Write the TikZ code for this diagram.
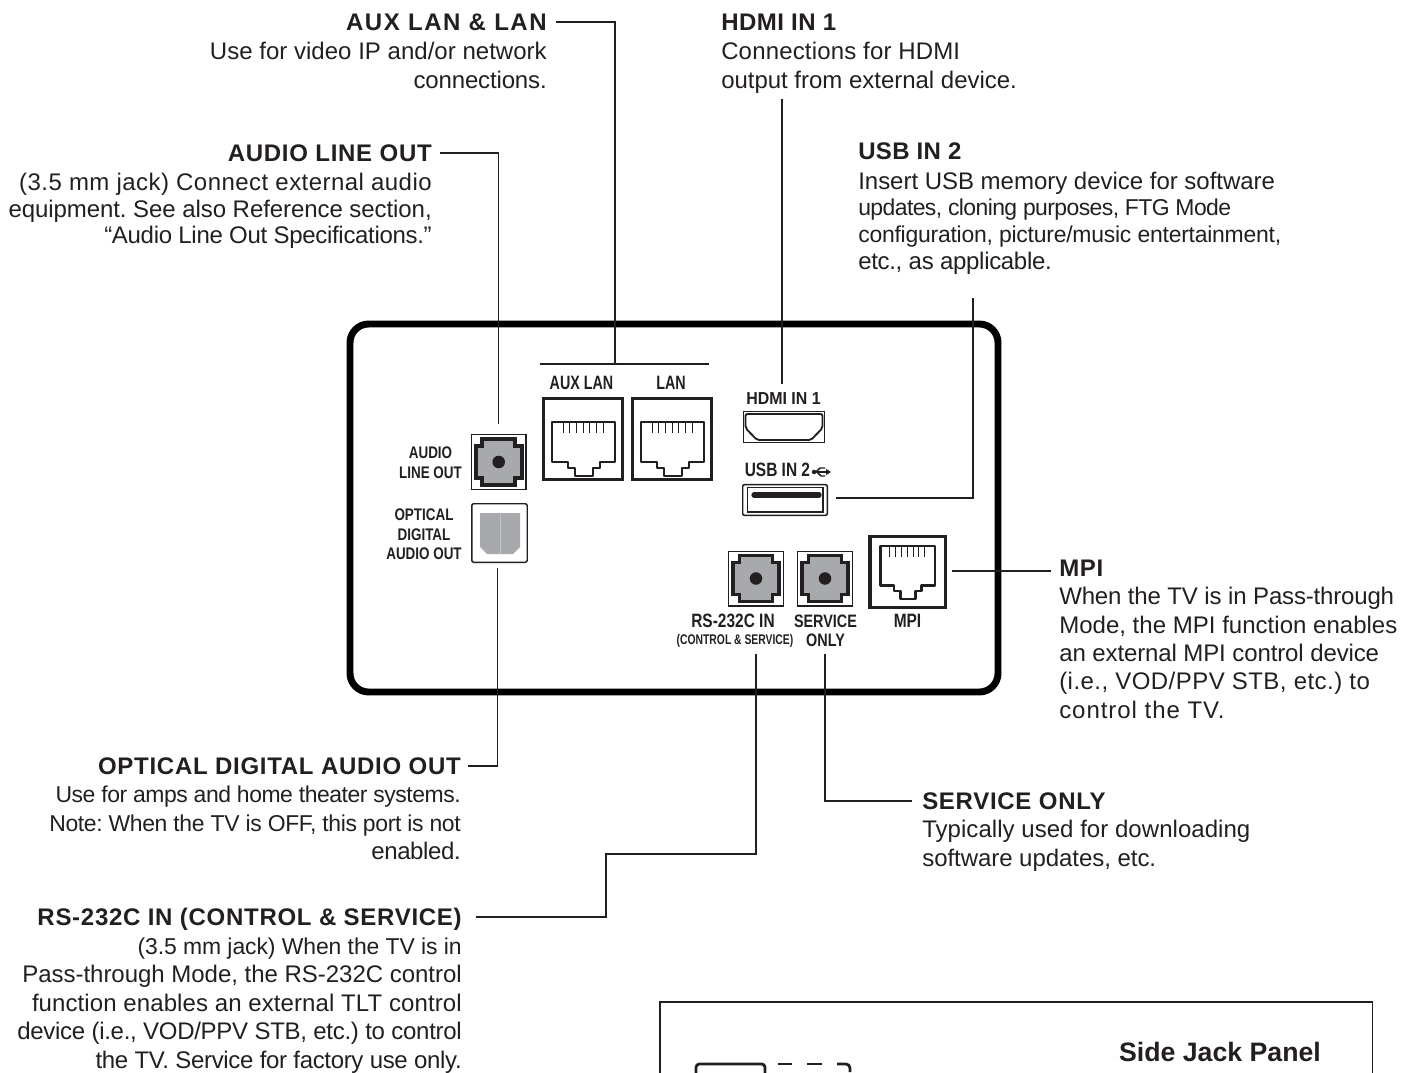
\documentclass[tikz,border=0pt]{standalone}
\usepackage{fontspec}
\setmainfont{Liberation Sans}
\newfontfamily\narrowfont[FakeStretch=0.8]{Liberation Sans}
\newfontfamily\tightfont[FakeStretch=0.74]{Liberation Sans}
\newfontfamily\midfont[FakeStretch=0.92]{Liberation Sans}
\definecolor{ink}{HTML}{231F20}
\definecolor{jackgray}{HTML}{A7A9AC}
\newcommand{\hd}[2]{{\bfseries\addfontfeature{LetterSpace=#1}#2}}
\newcommand{\ls}[2]{{\addfontfeature{LetterSpace=#1}#2}}
\newcommand{\sm}[2]{{\fontsize{17.2}{\baselineskip}\selectfont\addfontfeature{LetterSpace=#1}#2}}
\tikzset{
  body/.style={inner sep=0pt,text=ink,font=\fontsize{18}{#1}\selectfont\frenchspacing},
  rblock/.style={body=#1,anchor=north east,align=right},
  lblock/.style={body=#1,anchor=north west,align=left},
  panellabel/.style={inner sep=0pt,text=ink,align=center,font=\narrowfont\bfseries\fontsize{14.5}{14.5}\selectfont},
  sidelabel/.style={panellabel,font=\narrowfont\bfseries\fontsize{12.6}{14.6}\selectfont},
  wire/.style={draw=ink,line width=0.95pt},
  panelbox/.style={draw=black,line width=5.2pt,rounded corners=14pt},
  thinbox/.style={draw=ink,line width=1.1pt,inner sep=0pt},
  thickbox/.style={draw=ink,line width=2.6pt,inner sep=0pt},
  jackfill/.style={draw=ink,line width=2.8pt,fill=jackgray,line join=miter},
  rjout/.style={draw=ink,line width=2.1pt,line join=round},
  pics/jackshape/.style={code={
    \path[jackfill] (-16.5,-23) -- (16.5,-23) -- (16.5,-16) -- (23,-16) -- (23,16) -- (16.5,16) -- (16.5,23) -- (-16.5,23) -- (-16.5,16) -- (-23,16) -- (-23,-16) -- (-16.5,-16) -- cycle;
    \fill[ink] (0,0) circle[radius=4.7pt];
  }},
  pics/rjshape/.style={code={
    \path[rjout] (-31.5,0) -- (31.5,0) -- (31.5,40) -- (16.5,40) -- (16.5,46) -- (9.5,46) -- (9.5,54) -- (-8.5,54) -- (-8.5,46) -- (-15.5,46) -- (-15.5,40) -- (-31.5,40) -- cycle;
    \foreach \k in {-3,...,3} \draw[ink,line width=0.6pt] (\k*6.7-0.5,0) -- (\k*6.7-0.5,11);
  }}
}
\begin{document}
\begin{tikzpicture}[x=0.75pt,y=-0.75pt]
\useasboundingbox (0,0) rectangle (1403,1073);
% panel
\node[panelbox,minimum width=486pt,minimum height=276pt,inner sep=0pt] (panel) at (674,508) {};
% texts
\node[rblock=21.75] (auxtext) at (547,14) {\hd{6.5}{AUX LAN \& LAN}\\\ls{0.1}{Use for video IP and/or network}\\\ls{-0.6}{connections.}};
\node[lblock=21.75] (hdmitext) at (721,14) {\hd{2}{HDMI IN 1}\\\ls{0.7}{Connections for HDMI}\\\ls{-0.1}{output from external device.}};
\node[rblock=20] (audiotext) at (432,144.5) {\hd{3}{AUDIO LINE OUT}\\[1.7pt]\ls{1.9}{(3.5 mm jack) Connect external audio}\\\ls{-0.3}{equipment. See also Reference section,}\\\ls{-1.3}{“Audio Line Out Specifications.”}};
\node[lblock=20] (usbtext) at (858,142.5) {\hd{1.5}{USB IN 2}\\[2.3pt]\ls{-0.1}{Insert USB memory device for software}\\\sm{-2.5}{updates, cloning purposes, FTG Mode}\\\sm{-1}{configuration, picture/music entertainment,}\\\ls{-1.3}{etc., as applicable.}};
\node[lblock=21.3] (mpitext) at (1059,559.5) {\hd{3}{MPI}\\\ls{-0.7}{When the TV is in Pass-through}\\\ls{0.1}{Mode, the MPI function enables}\\\ls{-0.5}{an external MPI control device}\\\ls{1.9}{(i.e., VOD/PPV STB, etc.) to}\\\ls{4}{control the TV.}};
\node[rblock=21.3] (opttext) at (461,757.5) {\hd{3}{OPTICAL DIGITAL AUDIO OUT}\\\sm{-2}{Use for amps and home theater systems.}\\\sm{-1.6}{Note: When the TV is OFF, this port is not}\\\ls{-1.6}{enabled.}};
\node[lblock=21.3] (servtext) at (922,792.5) {\hd{3}{SERVICE ONLY}\\\ls{0.2}{Typically used for downloading}\\\ls{-0.2}{software updates, etc.}};
\node[rblock=21.4] (rstext) at (462,908) {\hd{3}{RS-232C IN (CONTROL \& SERVICE)}\\\sm{-0.4}{(3.5 mm jack) When the TV is in}\\\ls{-0.1}{Pass-through Mode, the RS-232C control}\\\ls{0.4}{function enables an external TLT control}\\\ls{-1.2}{device (i.e., VOD/PPV STB, etc.) to control}\\\ls{-1.4}{the TV. Service for factory use only.}};
% jacks
\node[thinbox,minimum size=40.9pt] (audiojack) at (498.7,462) {};
\pic at (audiojack.center) {jackshape};
\node[thinbox,minimum size=40.9pt] (rsjack) at (756,578.5) {};
\pic at (rsjack.center) {jackshape};
\node[thinbox,minimum size=40.9pt] (servjack) at (825,578.5) {};
\pic at (servjack.center) {jackshape};
\node[thinbox,rounded corners=1.5pt,minimum width=41.6pt,minimum height=43.9pt] (optjack) at (499.5,533) {};
\fill[jackgray] (480,513) -- (520,513) -- (520,547) -- (513,554) -- (487,554) -- (480,547) -- cycle;
\draw[jackgray!70,line width=0.4pt] (500,513) -- (500,554);
\node[thickbox,minimum width=58.9pt,minimum height=60.4pt] (auxjack) at (583,439) {};
\pic at (583.5,422) {rjshape};
\node[thickbox,minimum width=58.9pt,minimum height=60.4pt] (lanjack) at (672,439) {};
\pic at (672.5,422) {rjshape};
\node[thickbox,minimum width=56.6pt,minimum height=52.9pt] (mpijack) at (907.5,572) {};
\pic[xscale=0.87,yscale=0.98] at (907.5,546) {rjshape};
% hdmi
\node[thinbox,minimum width=60.4pt,minimum height=22.9pt] (hdmijack) at (784,427) {};
\draw[ink,line width=1.4pt,rounded corners=1.5pt] (745.5,414) -- (822.5,414) -- (822.5,428) -- (811,440) -- (757,440) -- (745.5,428) -- cycle;
% usb
\node[thinbox,rounded corners=1pt,minimum width=63.4pt,minimum height=23pt] (usbjack) at (785,500) {};
\draw[ink,line width=1.1pt] (747.5,487.5) rectangle (823,512);
\draw[ink,line width=4pt,line cap=round] (754,495) -- (819,495);
% usb symbol
\draw[ink,line width=1.1pt] (814,472) -- (826,472);
\fill[ink] (814,472) circle[radius=1.7pt];
\fill[ink] (831,472) -- (826,469) -- (826,475) -- cycle;
\draw[ink,line width=1.1pt] (816,472) -- (820,468) -- (825,468);
\draw[ink,line width=1.1pt] (817,472) -- (821,476) -- (825,476);
% panel labels
\node[panellabel,font=\tightfont\bfseries\fontsize{14.5}{14.5}\selectfont] (lauxlan) at (581.5,383) {AUX LAN};
\node[panellabel,font=\tightfont\bfseries\fontsize{14.5}{14.5}\selectfont] (llan) at (671,383) {LAN};
\node[panellabel,font=\midfont\bfseries\fontsize{13}{14.5}\selectfont] (lhdmi) at (783.5,399) {HDMI IN 1};
\node[panellabel,anchor=west] (lusb) at (744.5,470) {USB IN 2};
\node[sidelabel] (laudio) at (430.5,462.5) {AUDIO\\LINE OUT};
\node[sidelabel] (lopt) at (424,534.5) {OPTICAL\\DIGITAL\\AUDIO OUT};
\node[panellabel] (lrs) at (733,621) {RS-232C IN};
\node[panellabel,font=\tightfont\bfseries\fontsize{10.5}{11}\selectfont] (lctrl) at (735,641) {(CONTROL \& SERVICE)};
\node[panellabel,font=\narrowfont\bfseries\fontsize{13.5}{14.5}\selectfont] (lserv) at (825.5,630.5) {SERVICE\\ONLY};
\node[panellabel] (lmpi) at (907.5,621) {MPI};
% connectors
\coordinate (c1) at (556,22); \coordinate (c2) at (615,363);
\draw[wire] (c1) -| (c2);
\coordinate (bl) at (540,364); \coordinate (br) at (709,364);
\draw[wire] (bl) -- (br);
\coordinate (c3) at (440,153); \coordinate (c4) at (498.7,424);
\draw[wire] (c3) -| (c4);
\coordinate (c5) at (782,99); \coordinate (c6) at (782,384);
\draw[wire] (c5) -- (c6);
\coordinate (c7) at (973,298); \coordinate (c8) at (836,498);
\draw[wire] (c7) |- (c8);
\coordinate (c9) at (952,571); \coordinate (c10) at (1051,571);
\draw[wire] (c9) -- (c10);
\coordinate (c11) at (497.5,568); \coordinate (c12) at (468,766);
\draw[wire] (c11) |- (c12);
\coordinate (c13) at (756,654); \coordinate (c14) at (606,854); \coordinate (c15) at (476,917);
\draw[wire] (c13) |- (c14) |- (c15);
\coordinate (c16) at (825,654); \coordinate (c17) at (912,801);
\draw[wire] (c16) |- (c17);
% side panel
\coordinate (sideTL) at (660,1002); \coordinate (sideTR) at (1372.5,1002);
\coordinate (sideBL) at (660,1080); \coordinate (sideBR) at (1372.5,1080);
\draw[ink,line width=1.1pt] (sideBL) -- (sideTL) -- (sideTR) -- (sideBR);
\draw[ink,line width=2.1pt,rounded corners=2.5pt] (696,1080) -- (696,1064) -- (765,1064) -- (765,1080);
\draw[ink,line width=2.1pt] (778,1064) -- (792,1064);
\draw[ink,line width=2.1pt] (807,1064) -- (822,1064);
\draw[ink,line width=2.1pt,rounded corners=3pt] (837,1064) -- (850,1064) -- (850,1072);
\node[inner sep=0pt,text=ink,font=\bfseries\fontsize{20}{22}\selectfont] (sidetitle) at (1220,1051.5) {Side Jack Panel};
\end{tikzpicture}
\end{document}
